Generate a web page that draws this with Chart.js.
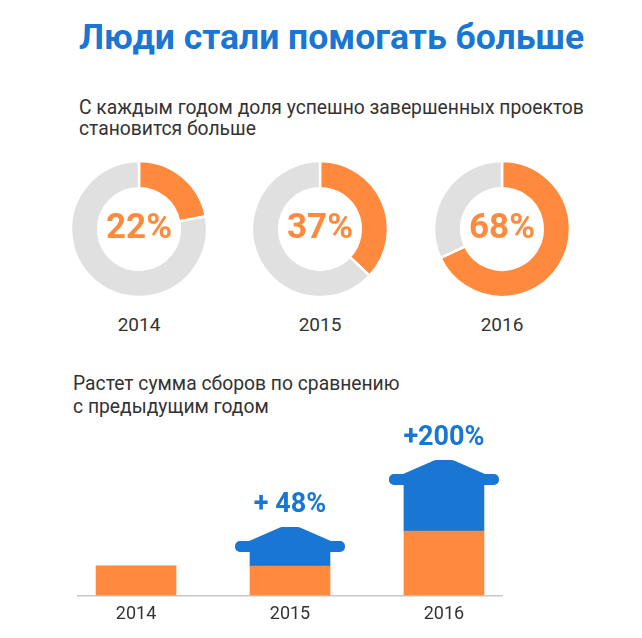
<!DOCTYPE html>
<html lang="ru">
<head>
<meta charset="utf-8">
<title>Люди стали помогать больше</title>
<script src="https://cdn.jsdelivr.net/npm/chart.js@4.4.1/dist/chart.umd.min.js"></script>
<style>
  html, body { margin: 0; padding: 0; background: #fff; }
  body { width: 642px; height: 638px; position: relative; overflow: hidden; font-family: Roboto, 'Noto Sans', sans-serif; color: #333; }
  .title { position: absolute; left: 79px; top: 17px; font-size: 35.5px; line-height: 40px; font-weight: 700; color: #1976D2; white-space: nowrap; }
  .lead { position: absolute; left: 79px; font-size: 19.3px; line-height: 21px; white-space: nowrap; }
  .donut { position: absolute; width: 150px; height: 150px; }
  .year { position: absolute; width: 120px; text-align: center; font-size: 19px; line-height: 22px; }
  #barBox { position: absolute; left: 0; top: 415px; width: 642px; height: 225px; }
</style>
</head>
<body>
<div class="title">Люди стали помогать больше</div>
<div class="lead" style="top:97px">С каждым годом доля успешно завершенных проектов<br>становится больше</div>
<div class="lead" style="left:73px;top:372px;line-height:23px">Растет сумма сборов по сравнению<br>с предыдущим годом</div>
<div id="barBox"><canvas id="bars"></canvas></div>
<script>
// доля успешно завершенных проектов, %
const years = ['2014', '2015', '2016'];
const shares = [22, 37, 68];
// сумма сборов: уровень прошлого года (оранжевый) и прирост (синий), 2014 = 100
const baseSums = [100, 100, 220];
const growthSums = [0, 48, 157];
const growthLabels = ['', '+ 48%', '+200%'];

const ORANGE = '#FF8A3D';
const GRAY = '#E0E0E0';
const BLUE = '#1976D2';

// Percent in the middle of each doughnut
const centerText = {
  id: 'centerText',
  afterDraw(chart, args, opts) {
    const arc = chart.getDatasetMeta(0).data[0];
    const ctx = chart.ctx;
    ctx.save();
    ctx.font = '700 35px Roboto';
    ctx.fillStyle = ORANGE;
    ctx.textAlign = 'center';
    ctx.textBaseline = 'middle';
    ctx.fillText(opts.text, arc.x, arc.y);
    ctx.restore();
  }
};

// Arrow head on top of the growth bars + label above
const arrowHeads = {
  id: 'arrowHeads',
  afterDatasetsDraw(chart, args, opts) {
    const ctx = chart.ctx;
    const meta = chart.getDatasetMeta(1);
    meta.data.forEach((bar, i) => {
      if (!growthSums[i]) return;
      const cx = bar.x, yb = bar.y;
      const hw = 55, lip = 11, h = 25, peak = 8, r = 5, edge = 40;
      ctx.save();
      ctx.fillStyle = BLUE;
      ctx.strokeStyle = BLUE;
      ctx.lineWidth = r * 2;
      ctx.lineJoin = 'round';
      ctx.beginPath();
      ctx.moveTo(cx - hw + r, yb - r);
      ctx.lineTo(cx - hw + r, yb - lip + r);
      ctx.lineTo(cx - edge, yb - lip + r);
      ctx.lineTo(cx - peak, yb - h + r);
      ctx.lineTo(cx + peak, yb - h + r);
      ctx.lineTo(cx + edge, yb - lip + r);
      ctx.lineTo(cx + hw - r, yb - lip + r);
      ctx.lineTo(cx + hw - r, yb - r);
      ctx.closePath();
      ctx.fill();
      ctx.stroke();
      ctx.font = '700 27px Roboto';
      ctx.textAlign = 'center';
      ctx.textBaseline = 'middle';
      ctx.fillText(opts.labels[i], cx, yb - h - 22);
      ctx.restore();
    });
  }
};

// Doughnuts
const donutCenters = [139, 320, 502];
years.forEach((year, i) => {
  const box = document.createElement('div');
  box.className = 'donut';
  box.style.left = (donutCenters[i] - 75) + 'px';
  box.style.top = '154px';
  const canvas = document.createElement('canvas');
  box.appendChild(canvas);
  document.body.appendChild(box);

  const label = document.createElement('div');
  label.className = 'year';
  label.textContent = year;
  label.style.left = (donutCenters[i] - 60) + 'px';
  label.style.top = '314px';
  document.body.appendChild(label);

  new Chart(canvas, {
    type: 'doughnut',
    data: {
      labels: ['Завершены успешно', 'Остальные'],
      datasets: [{
        data: [shares[i], 100 - shares[i]],
        backgroundColor: [ORANGE, GRAY],
        borderColor: '#fff',
        borderWidth: 2.5,
      }],
    },
    options: {
      responsive: true,
      maintainAspectRatio: false,
      animation: false,
      events: [],
      radius: 68,
      cutout: '60%',
      plugins: {
        legend: { display: false },
        tooltip: { enabled: false },
        centerText: { text: shares[i] + '%' },
      },
    },
    plugins: [centerText],
  });
});

// Bars
new Chart(document.getElementById('bars'), {
  type: 'bar',
  data: {
    datasets: [{
      label: 'Уровень прошлого года',
      data: baseSums.map((v, i) => ({ x: i, y: v })),
      backgroundColor: ORANGE,
      barThickness: 80,
    }, {
      label: 'Рост',
      data: growthSums.map((v, i) => ({ x: i, y: v })),
      backgroundColor: BLUE,
      barThickness: 80,
    }],
  },
  options: {
    responsive: true,
    maintainAspectRatio: false,
    animation: false,
    events: [],
    layout: { padding: { left: 78, right: 140, top: 0, bottom: 7 } },
    plugins: {
      legend: { display: false },
      tooltip: { enabled: false },
      arrowHeads: { labels: growthLabels },
    },
    scales: {
      x: {
        type: 'linear',
        min: -0.377,
        max: 2.377,
        offset: false,
        stacked: true,
        grid: { display: false, drawTicks: false, offset: false },
        border: { display: true, color: '#c8c8c8', width: 1.5 },
        ticks: {
          stepSize: 1,
          includeBounds: false,
          autoSkip: false,
          maxRotation: 0,
          padding: 8,
          color: '#333',
          font: { family: 'Roboto', size: 18 },
          callback: (v) => years[v] ?? '',
        },
      },
      y: { display: false, stacked: true, min: 0, max: 616 },
    },
  },
  plugins: [arrowHeads],
});
</script>
</body>
</html>
